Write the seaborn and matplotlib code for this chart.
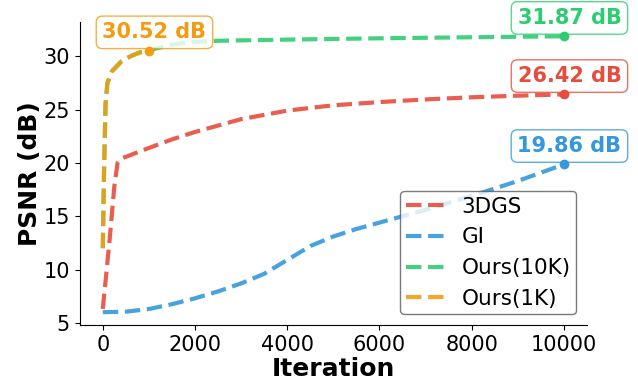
import numpy as np
import pandas as pd
import matplotlib
matplotlib.use("Agg")
import matplotlib.pyplot as plt
import seaborn as sns

# values
iter_3dgs = [0, 50, 150, 250, 320, 400, 700, 1000, 1500, 2000, 2500, 3000, 4000,
             5000, 6000, 7000, 8000, 9000, 10000]
psnr_3dgs = [6.3, 8.5, 12.9, 17.8, 20.0, 20.4, 20.9, 21.4, 22.2, 22.9, 23.5, 24.1,
             24.9, 25.4, 25.7, 25.95, 26.15, 26.3, 26.42]

iter_gi = [0, 500, 1000, 1500, 2000, 2500, 3000, 3500, 4000, 4500, 5000, 5500,
           6000, 7000, 8000, 9000, 10000]
psnr_gi = [6.0, 6.05, 6.3, 6.75, 7.3, 7.95, 8.7, 9.6, 10.9, 12.2, 13.1, 13.8,
           14.4, 15.6, 16.9, 18.3, 19.86]

iter_ours10k = [0, 30, 60, 100, 200, 400, 600, 800, 1000, 1500, 2000, 2500, 4000,
                6000, 8000, 10000]
psnr_ours10k = [12.0, 20.0, 25.5, 27.5, 28.6, 29.5, 30.0, 30.35, 30.55, 31.1, 31.35,
                31.45, 31.56, 31.68, 31.78, 31.87]

iter_ours1k = [0, 30, 60, 100, 200, 400, 600, 800, 1000]
psnr_ours1k = [12.0, 20.0, 25.5, 27.5, 28.6, 29.5, 30.0, 30.35, 30.52]

series = [
    ("3DGS", iter_3dgs, psnr_3dgs, "#e74c3c"),
    ("GI", iter_gi, psnr_gi, "#3498db"),
    ("Ours(10K)", iter_ours10k, psnr_ours10k, "#2ecc71"),
    ("Ours(1K)", iter_ours1k, psnr_ours1k, "#f39c12"),
]

sns.set_style("ticks", {
    "axes.edgecolor": "black",
    "text.color": "black",
    "axes.labelcolor": "black",
    "xtick.color": "black",
    "ytick.color": "black",
    "xtick.major.size": 3.5,
    "ytick.major.size": 3.5,
})
plt.rcParams["font.family"] = ["DejaVu Sans"]

fig, ax = plt.subplots(figsize=(6.38, 3.81), dpi=100)

for name, xs, ys, color in series:
    df = pd.DataFrame({"Iteration": xs, "PSNR": ys})
    sns.lineplot(data=df, x="Iteration", y="PSNR", color=color, linestyle="--",
                 linewidth=3, alpha=0.9, label=name, ax=ax)
    # final value marker + label
    ax.plot(xs[-1], ys[-1], "o", color=color, markersize=6, zorder=5)
    ax.annotate(f"{ys[-1]:.2f} dB", xy=(xs[-1], ys[-1]), xytext=(4, 6),
                textcoords="offset points", ha="center", va="bottom",
                fontsize=15, fontweight="bold", color=color,
                bbox=dict(boxstyle="round,pad=0.3", facecolor="white",
                          edgecolor=color, alpha=0.8))

ax.set_xlim(-500, 10500)
ax.set_ylim(4.8, 33.2)
ax.set_xticks([0, 2000, 4000, 6000, 8000, 10000])
ax.set_yticks([5, 10, 15, 20, 25, 30])
ax.tick_params(labelsize=15)
ax.set_xlabel("Iteration", fontsize=18, fontweight="bold", labelpad=2)
ax.set_ylabel("PSNR (dB)", fontsize=18, fontweight="bold", labelpad=1)
leg = ax.legend(loc="lower right", fontsize=15.5, handlelength=1.8,
                borderpad=0.25, handletextpad=0.8)
leg.get_frame().set_edgecolor("0.35")
sns.despine(ax=ax)

fig.subplots_adjust(left=0.125, right=0.92, top=0.942, bottom=0.147)
fig.savefig("out.png", dpi=100)
